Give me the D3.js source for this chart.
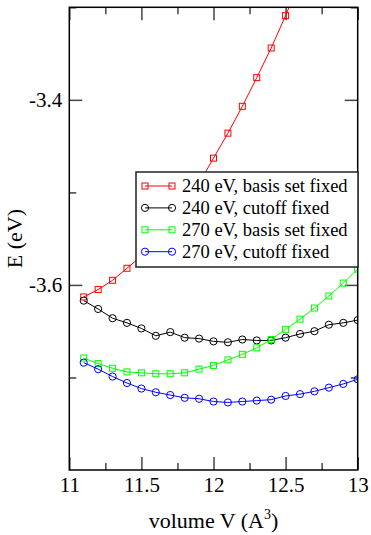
<!DOCTYPE html>
<html>
<head>
<meta charset="utf-8">
<script src="https://cdn.jsdelivr.net/npm/d3@7"></script>
<style>
  body { margin: 0; background: #fff; }
  svg { display: block; }
  text { font-family: "Liberation Serif", "Times New Roman", serif; fill: #000; }
</style>
</head>
<body>
<div id="chart"></div>
<script>
// volumes (A^3)
var volumes = [11.1, 11.2, 11.3, 11.4, 11.5, 11.6, 11.7, 11.8, 11.9, 12.0,
               12.1, 12.2, 12.3, 12.4, 12.5, 12.6, 12.7, 12.8, 12.9, 13.0];

// energies (eV)
var red240 = [-3.613, -3.605, -3.595, -3.582, -3.569, -3.553, -3.534, -3.513,
              -3.490, -3.463, -3.436, -3.407, -3.376, -3.344, -3.309, -3.271];
var black240 = [-3.617, -3.626, -3.636, -3.641, -3.647, -3.655, -3.651, -3.657, -3.658, -3.661,
                -3.662, -3.659, -3.660, -3.660, -3.657, -3.653, -3.650, -3.643, -3.641, -3.638];
var green270 = [-3.679, -3.685, -3.690, -3.694, -3.695, -3.696, -3.696, -3.695, -3.691, -3.687,
                -3.681, -3.675, -3.668, -3.659, -3.648, -3.637, -3.625, -3.612, -3.598, -3.583];
var blue270 = [-3.684, -3.691, -3.699, -3.706, -3.712, -3.716, -3.719, -3.722, -3.723, -3.726,
               -3.727, -3.726, -3.725, -3.724, -3.720, -3.718, -3.715, -3.711, -3.707, -3.702];

var seriesNames = ["240 eV, basis set fixed", "240 eV, cutoff fixed",
                   "270 eV, basis set fixed", "270 eV, cutoff fixed"];
var seriesColors = ["#ff0000", "#000000", "#00ff00", "#0000ff"];
var seriesShapes = ["square", "circle", "square", "circle"];
var seriesValues = [red240, black240, green270, blue270];

var xMajor = [11, 11.5, 12, 12.5, 13];
var xMinor = [11.25, 11.75, 12.25, 12.75];
var yMajor = [-3.4, -3.6];
var yMinor = [-3.3, -3.5, -3.7];

var W = 371, H = 535;
var pL = 69.3, pR = 357.7, pT = 7.3, pB = 470;

var svg = d3.select("#chart").append("svg")
    .attr("width", W)
    .attr("height", H);

var x = d3.scaleLinear().domain([11, 13]).range([pL, pR]);
var y = d3.scaleLinear().domain([-3.8, -3.3]).range([pB, pT]);

svg.append("defs").append("clipPath").attr("id", "plotclip")
  .append("rect")
    .attr("x", pL).attr("y", pT)
    .attr("width", pR - pL).attr("height", pB - pT);

// ticks on all four sides, pointing inwards
function styleAxis(g) {
  g.select(".domain").remove();
  g.selectAll(".tick line").attr("stroke", "#444").attr("stroke-width", 1.5);
  g.selectAll("text").style("font-size", "21px").attr("fill", "#000");
}

svg.append("g").attr("transform", "translate(0," + pB + ")")
  .call(d3.axisBottom(x).tickValues(xMajor).tickSize(-13).tickPadding(7)
    .tickFormat(function(d) { return String(d); }))
  .call(styleAxis);
svg.append("g").attr("transform", "translate(0," + pB + ")")
  .call(d3.axisBottom(x).tickValues(xMinor).tickSize(-7).tickFormat(""))
  .call(styleAxis);
svg.append("g").attr("transform", "translate(0," + pT + ")")
  .call(d3.axisTop(x).tickValues(xMajor).tickSize(-13).tickFormat(""))
  .call(styleAxis);
svg.append("g").attr("transform", "translate(0," + pT + ")")
  .call(d3.axisTop(x).tickValues(xMinor).tickSize(-7).tickFormat(""))
  .call(styleAxis);

svg.append("g").attr("transform", "translate(" + pL + ",0)")
  .call(d3.axisLeft(y).tickValues(yMajor).tickSize(-13).tickPadding(7)
    .tickFormat(function(d) { return d.toFixed(1); }))
  .call(styleAxis);
svg.append("g").attr("transform", "translate(" + pL + ",0)")
  .call(d3.axisLeft(y).tickValues(yMinor).tickSize(-7).tickFormat(""))
  .call(styleAxis);
svg.append("g").attr("transform", "translate(" + pR + ",0)")
  .call(d3.axisRight(y).tickValues(yMajor).tickSize(-13).tickFormat(""))
  .call(styleAxis);
svg.append("g").attr("transform", "translate(" + pR + ",0)")
  .call(d3.axisRight(y).tickValues(yMinor).tickSize(-7).tickFormat(""))
  .call(styleAxis);

// data
var plot = svg.append("g").attr("clip-path", "url(#plotclip)");
var line = d3.line()
    .x(function(d) { return x(d[0]); })
    .y(function(d) { return y(d[1]); });

function drawMarker(g, shape, color, cx, cy) {
  if (shape == "square") {
    g.append("rect")
      .attr("x", cx - 3).attr("y", cy - 3)
      .attr("width", 6).attr("height", 6)
      .attr("fill", "none").attr("stroke", color).attr("stroke-width", 1);
  } else {
    g.append("circle")
      .attr("cx", cx).attr("cy", cy).attr("r", 3.6)
      .attr("fill", "none").attr("stroke", color).attr("stroke-width", 1);
  }
}

seriesValues.forEach(function(vals, s) {
  var pts = vals.map(function(v, i) { return [volumes[i], v]; });
  plot.append("path")
    .datum(pts)
    .attr("d", line)
    .attr("fill", "none")
    .attr("stroke", seriesColors[s])
    .attr("stroke-width", 1);
  var mg = plot.append("g");
  pts.forEach(function(p) {
    drawMarker(mg, seriesShapes[s], seriesColors[s], x(p[0]), y(p[1]));
  });
});

// frame
svg.append("rect")
  .attr("x", pL).attr("y", pT)
  .attr("width", pR - pL).attr("height", pB - pT)
  .attr("fill", "none").attr("stroke", "#000").attr("stroke-width", 1.5);

// legend
var legend = svg.append("g");
legend.append("rect")
  .attr("x", 136).attr("y", 172)
  .attr("width", 222).attr("height", 95)
  .attr("fill", "#fff").attr("stroke", "#222").attr("stroke-width", 1.5);

seriesNames.forEach(function(name, i) {
  var cy = 186 + i * 21.9;
  legend.append("line")
    .attr("x1", 145).attr("x2", 172)
    .attr("y1", cy).attr("y2", cy)
    .attr("stroke", seriesColors[i]).attr("stroke-width", 1);
  drawMarker(legend, seriesShapes[i], seriesColors[i], 145, cy);
  drawMarker(legend, seriesShapes[i], seriesColors[i], 172, cy);
  legend.append("text")
    .attr("x", 182).attr("y", cy + 6)
    .style("font-size", "18.5px")
    .text(name);
});

// axis titles
var xt = svg.append("text")
  .attr("x", (pL + pR) / 2).attr("y", 528)
  .attr("text-anchor", "middle")
  .style("font-size", "22px");
xt.append("tspan").text("volume V (A");
xt.append("tspan").attr("dy", -9).style("font-size", "14px").text("3");
xt.append("tspan").attr("dy", 9).text(")");

svg.append("text")
  .attr("transform", "translate(22," + ((pT + pB) / 2) + ") rotate(-90)")
  .attr("text-anchor", "middle")
  .style("font-size", "22px")
  .text("E (eV)");
</script>
</body>
</html>
